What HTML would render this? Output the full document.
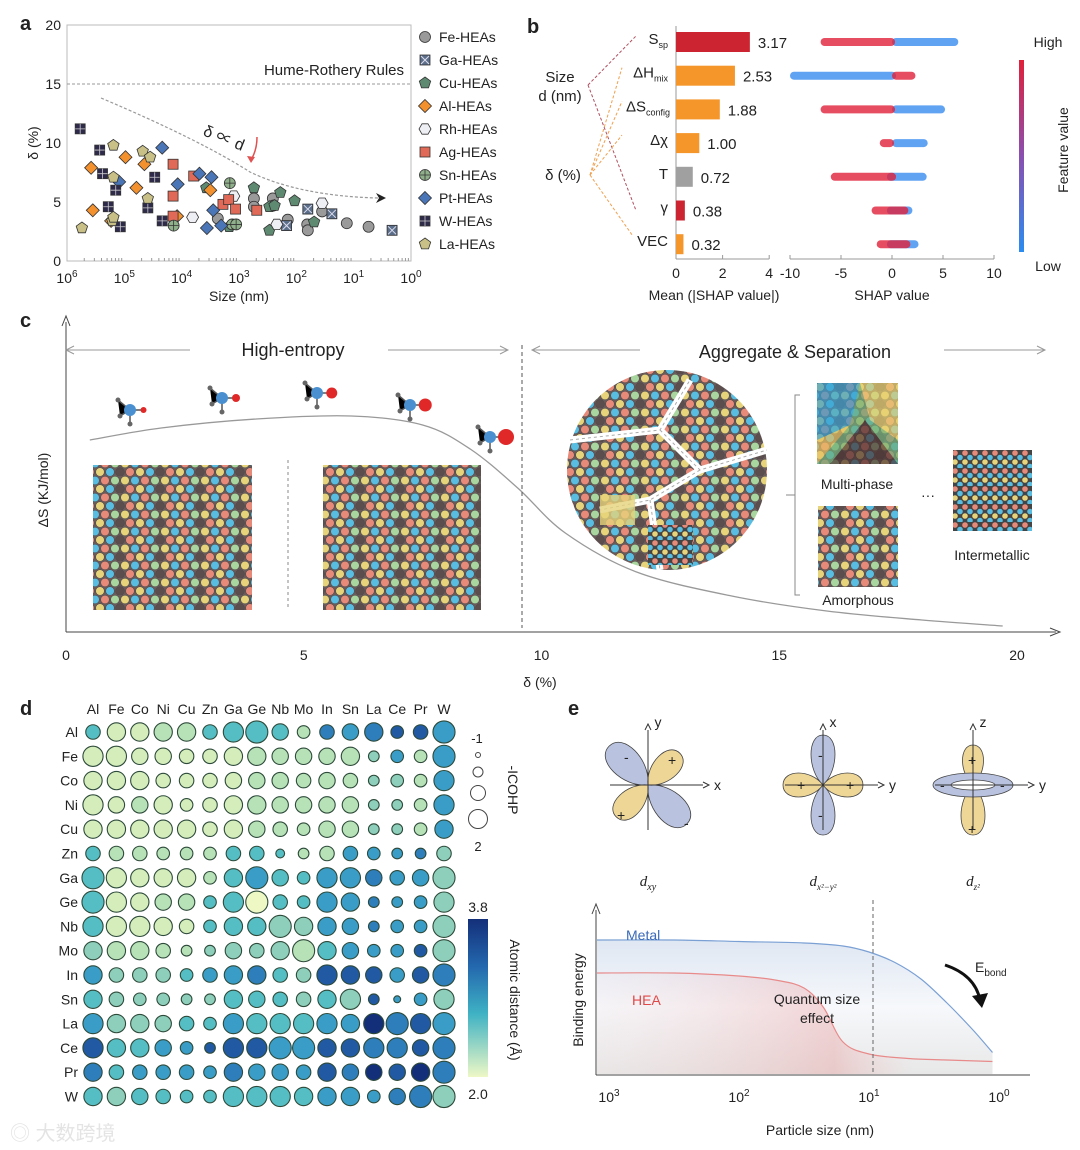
<!DOCTYPE html>
<html><head><meta charset="utf-8"><style>
body{margin:0;background:#fff;}
svg{display:block;font-family:"Liberation Sans","Noto Sans CJK SC",sans-serif;}
</style></head><body>
<svg id="fig" width="1080" height="1150" viewBox="0 0 1080 1150" xmlns="http://www.w3.org/2000/svg">
<defs>
<linearGradient id="fv" x1="0" y1="0" x2="0" y2="1"><stop offset="0" stop-color="#e0203a"/><stop offset="0.5" stop-color="#8a4fb0"/><stop offset="1" stop-color="#2b8cf0"/></linearGradient>
<linearGradient id="ad" x1="0" y1="0" x2="0" y2="1"><stop offset="0" stop-color="#142f7a"/><stop offset="0.3" stop-color="#2368ae"/><stop offset="0.6" stop-color="#3fb2c4"/><stop offset="1" stop-color="#eef8c6"/></linearGradient>
<linearGradient id="metalfill" x1="0" y1="0" x2="0" y2="1"><stop offset="0" stop-color="#dfe7f3"/><stop offset="0.5" stop-color="#f6f8fb"/><stop offset="1" stop-color="#e8e8e8"/></linearGradient>
<linearGradient id="heafill" x1="0" y1="0" x2="1" y2="0"><stop offset="0" stop-color="#f4d0d0" stop-opacity="0.2"/><stop offset="0.6" stop-color="#e88080" stop-opacity="0.6"/><stop offset="0.8" stop-color="#f0a0a0" stop-opacity="0"/></linearGradient>
<pattern id="mix" width="40" height="17" patternUnits="userSpaceOnUse">
<rect width="40" height="17" fill="#6a5a5a"/>
<circle cx="5" cy="4.5" r="4.3" fill="#e6d37a" stroke="#444" stroke-width="0.5"/>
<circle cx="15" cy="4.5" r="4.3" fill="#58bde0" stroke="#444" stroke-width="0.5"/>
<circle cx="25" cy="4.5" r="4.3" fill="#e88a7a" stroke="#444" stroke-width="0.5"/>
<circle cx="35" cy="4.5" r="4.3" fill="#a9d69e" stroke="#444" stroke-width="0.5"/>
<circle cx="0" cy="13" r="4.3" fill="#5d4e4e" stroke="#444" stroke-width="0.5"/>
<circle cx="10" cy="13" r="4.3" fill="#e88a7a" stroke="#444" stroke-width="0.5"/>
<circle cx="20" cy="13" r="4.3" fill="#e6d37a" stroke="#444" stroke-width="0.5"/>
<circle cx="30" cy="13" r="4.3" fill="#58bde0" stroke="#444" stroke-width="0.5"/>
<circle cx="40" cy="13" r="4.3" fill="#5d4e4e" stroke="#444" stroke-width="0.5"/>
</pattern>
<pattern id="stripe" width="10" height="18" patternUnits="userSpaceOnUse">
<rect width="10" height="18" fill="#444"/>
<circle cx="5" cy="3" r="2.8" fill="#e88a7a"/><circle cx="0" cy="7.5" r="2.8" fill="#58bde0"/><circle cx="10" cy="7.5" r="2.8" fill="#58bde0"/><circle cx="5" cy="12" r="2.8" fill="#e6d37a"/><circle cx="0" cy="16.5" r="2.8" fill="#58bde0"/><circle cx="10" cy="16.5" r="2.8" fill="#58bde0"/>
</pattern>
</defs>
<g id="A"></g>
<g id="B"></g>
<g id="C"></g>
<g id="D"></g>
<g id="E"></g>
<text x="10" y="1140" font-size="20" fill="#e4e4e4">◎ 大数跨境</text>
</svg>
<script>
// ---------- Panel a data: [log10(size nm), delta %] ----------
const seriesNames=["Fe-HEAs","Ga-HEAs","Cu-HEAs","Al-HEAs","Rh-HEAs","Ag-HEAs","Sn-HEAs","Pt-HEAs","W-HEAs","La-HEAs"];
const feData=[[3.37,3.6],[2.74,5.3],[2.74,4.6],[2.41,5.3],[2.40,4.7],[2.15,3.5],[1.81,3.1],[1.80,2.6],[1.55,4.2],[1.12,3.2],[0.74,2.9]];
const gaData=[[2.17,3.0],[1.80,4.4],[1.38,4.0],[0.33,2.6]];
const cuData=[[3.57,6.2],[3.17,2.9],[2.74,6.2],[2.47,2.6],[2.47,4.6],[2.38,4.7],[2.28,5.8],[2.03,5.1],[1.69,3.3]];
const alData=[[5.58,7.9],[5.55,4.3],[5.23,3.4],[4.98,8.8],[4.79,6.2],[4.65,8.2],[4.08,3.8],[3.50,6.0]];
const rhData=[[3.81,3.7],[3.09,5.5],[2.34,3.1],[1.55,4.9]];
const agData=[[4.15,8.2],[4.15,5.5],[4.15,3.8],[3.79,7.2],[3.28,4.8],[3.18,5.2],[3.06,4.4],[2.69,4.3]];
const snData=[[4.14,3.0],[3.16,6.6],[3.12,3.1],[3.05,3.1]];
const ptData=[[5.09,6.7],[4.34,9.6],[4.07,6.5],[3.69,7.4],[3.56,2.8],[3.48,7.1],[3.45,4.3],[3.31,3.0]];
const wData=[[5.77,11.2],[5.43,9.4],[5.38,7.4],[5.15,6.0],[5.28,4.6],[5.07,2.9],[4.59,4.5],[4.47,7.1],[4.34,3.4]];
const laData=[[5.74,2.8],[5.19,9.8],[5.19,7.1],[5.21,3.4],[5.19,3.7],[4.68,9.3],[4.55,8.8],[4.59,5.3]];
const aYTicks=[0,5,10,15,20];
const aXTicks=[6,5,4,3,2,1,0];
// ---------- Panel b data ----------
const bFeatures=["Ssp","ΔHmix","ΔSconfig","Δχ","T","γ","VEC"];
const bValues=[3.17,2.53,1.88,1.00,0.72,0.38,0.32];
const bTicks=[0,2,4];
const shapTicks=[-10,-5,0,5,10];
const shapRedLo=[-7,0,-7,-1.2,-6,-2,-1.5];
const shapRedHi=[0.3,2.3,0.3,0.2,0.4,1.6,1.8];
const shapBlueLo=[0,-10,0,0,-0.5,-0.5,-0.5];
const shapBlueHi=[6.5,0.4,5.2,3.5,3.4,2,2.6];
// ---------- Panel c data ----------
const cXTicks=[0,5,10,15,20];
const entropyX=[0.5,2,4,6,7.5,8.5,9.5,10.5,12,14,16,18,19.7];
const entropyY=[0.64,0.68,0.71,0.72,0.69,0.61,0.48,0.33,0.2,0.12,0.07,0.04,0.02];
// ---------- Panel d data ----------
const elements=["Al","Fe","Co","Ni","Cu","Zn","Ga","Ge","Nb","Mo","In","Sn","La","Ce","Pr","W"];
const distLevels=["5223355553767886","2222222333334636","2222222333334436","2232222333334436","2222222333334436","5333335553366674","5222235655667664","5223355155667664","5222255544667664","4333344443566684","6444566754888687","5444445554548664","6444556555669786","8556688866887787","7566667666879897","5455555555666774"];
const icohpLevels=["5777758964567459","8866557766673449","7775556665653448","8667457766663348","7777757654663347","5554445523554335","9877747964886569","9876648954873348","8887547797763449","7775336579764449","7555457755876569","7544337655783148","8776548888878989","8776438899778869","7555547665766679","7765448887774699"];
const palette=["#edf8c4","#d4edbb","#b7e1b6","#8ecfbb","#55bdc4","#3a9dc8","#2e7ebb","#2259a3","#142f7a"];
// ---------- Panel e data ----------
const eXTicks=[3,2,1,0];
const metalX=[3.1,2.5,2,1.5,1.2,1.0,0.8,0.6,0.4,0.2,0.05];
const metalY=[0.9,0.9,0.89,0.88,0.86,0.82,0.75,0.64,0.48,0.3,0.15];
const heaX=[3.1,2.5,2,1.7,1.5,1.35,1.2,1.0,0.7,0.4,0.05];
const heaY=[0.68,0.68,0.66,0.63,0.58,0.45,0.22,0.14,0.11,0.1,0.09];

const NS="http://www.w3.org/2000/svg";
function mk(parent,tag,attrs,txt){const e=document.createElementNS(NS,tag);for(const k in attrs)e.setAttribute(k,attrs[k]);if(txt!==undefined)e.textContent=txt;parent.appendChild(e);return e;}
function txt(p,x,y,s,size,anchor,extra){const a=Object.assign({x:x,y:y,"font-size":size||14,"text-anchor":anchor||"start",fill:"#222"},extra||{});return mk(p,"text",a,s);}
function smooth(pts){let d="M"+pts[0][0].toFixed(1)+","+pts[0][1].toFixed(1);for(let i=0;i<pts.length-1;i++){const p0=pts[Math.max(0,i-1)],p1=pts[i],p2=pts[i+1],p3=pts[Math.min(pts.length-1,i+2)];
 const c1=[p1[0]+(p2[0]-p0[0])/6,p1[1]+(p2[1]-p0[1])/6],c2=[p2[0]-(p3[0]-p1[0])/6,p2[1]-(p3[1]-p1[1])/6];
 d+=` C${c1[0].toFixed(1)},${c1[1].toFixed(1)} ${c2[0].toFixed(1)},${c2[1].toFixed(1)} ${p2[0].toFixed(1)},${p2[1].toFixed(1)}`;}return d;}

// ================= Panel A =================
const A=document.getElementById("A");
const ax0=67,ax1=411,ay0=261,ay1=25;
const axX=v=>ax0+(6-v)/6*(ax1-ax0);
const axY=v=>ay0-v/20*(ay0-ay1);
let t=txt(A,20,30,"a",20,"start",{"font-weight":"bold"});

let fr=mk(A,"rect",{x:ax0,y:ay1,width:ax1-ax0,height:ay0-ay1,fill:"none",stroke:"#bbb"});

aYTicks.forEach(v=>{const l=txt(A,61,axY(v)+5,String(v),14,"end");});
aXTicks.forEach(v=>{const l=mk(A,"text",{x:axX(v),y:283,"font-size":14,"text-anchor":"middle",fill:"#222"});l.innerHTML="10<tspan dy='-6' font-size='10'>"+v+"</tspan>";
 for(let k=2;k<10&&v>0;k++){mk(A,"line",{x1:axX(v-Math.log10(k)),x2:axX(v-Math.log10(k)),y1:ay0,y2:ay0-3,stroke:"#999"});}});
t=txt(A,239,301,"Size (nm)",14,"middle");
t=txt(A,38,143,"δ (%)",14,"middle",{transform:"rotate(-90 38 143)"});
let hl=mk(A,"line",{x1:ax0,x2:ax1,y1:axY(15),y2:axY(15),stroke:"#999","stroke-dasharray":"3,2"});
t=txt(A,404,75,"Hume-Rothery Rules",15,"end");
let tr=mk(A,"path",{d:"M101,98 Q200,140 250,172 Q300,196 378,198",fill:"none",stroke:"#999","stroke-dasharray":"3,2","stroke-width":1.2});
mk(A,"path",{d:"M376,193 L386,198 L376,203 L379,198Z",fill:"#222"});
t=txt(A,222,143,"δ ∝ d",16,"middle",{transform:"rotate(22 222 143)"});
mk(A,"path",{d:"M257,137 Q257,150 251,160",fill:"none",stroke:"#e05050","stroke-width":1.5});
mk(A,"path",{d:"M247,156 L251,163 L255,157Z",fill:"#e05050"});
const shapes=[["circle","#9a9a9a"],["xsq","#5b6e8a"],["pent","#5f8a72"],["diam","#f2912e"],["hex","#eeeef5"],["sq","#e06a57"],["plus","#8fb08a"],["diam","#4a76b8"],["wsq","#2e2a4a"],["pent","#c8c086"]];
function marker(p,shape,col,x,y){
 const st={fill:col,stroke:"#333","stroke-width":0.8};let e;const r=5.5;
 if(shape==="circle"||shape==="plus"){e=mk(p,"circle",Object.assign({cx:x,cy:y,r:r},st));if(shape==="plus"){mk(p,"path",{d:`M${x-r},${y}H${x+r}M${x},${y-r}V${y+r}`,stroke:"#333","stroke-width":0.8});}}
 else if(shape==="sq"||shape==="xsq"||shape==="wsq"){e=mk(p,"rect",Object.assign({x:x-5,y:y-5,width:10,height:10},st));
  if(shape==="xsq")mk(p,"path",{d:`M${x-4},${y-4}L${x+4},${y+4}M${x+4},${y-4}L${x-4},${y+4}`,stroke:"#dde","stroke-width":1});
  if(shape==="wsq")mk(p,"path",{d:`M${x-5},${y}H${x+5}M${x},${y-5}V${y+5}`,stroke:"#ccc","stroke-width":0.8});}
 else{let n=shape==="diam"?4:shape==="pent"?5:6,rr=shape==="diam"?6.5:6,pts=[];for(let i=0;i<n;i++){const a=-Math.PI/2+i*2*Math.PI/n+(shape==="hex"?Math.PI/6:0);pts.push((x+rr*Math.cos(a)).toFixed(1)+","+(y+rr*Math.sin(a)).toFixed(1));}e=mk(p,"polygon",Object.assign({points:pts.join(" ")},st));}
 return e;}
const allA=[feData,gaData,cuData,alData,rhData,agData,snData,ptData,wData,laData];
allA.forEach((arr,si)=>{const g=mk(A,"g",{});
 arr.forEach(d=>{const m=marker(g,shapes[si][0],shapes[si][1],axX(d[0]),axY(d[1]));});
 const ly=37+si*23;const lg=mk(A,"g",{});
 marker(lg,shapes[si][0],shapes[si][1],425,ly);txt(lg,439,ly+5,seriesNames[si],14);});

// ================= Panel B =================
const B=document.getElementById("B");
const bx0=676,bsc=23.3;const rowY=i=>42+i*33.7;
t=txt(B,527,33,"b",20,"start",{"font-weight":"bold"});
mk(B,"line",{x1:bx0,x2:bx0,y1:26,y2:259,stroke:"#999"});mk(B,"line",{x1:bx0,x2:bx0+4*bsc,y1:259,y2:259,stroke:"#999"});
bTicks.forEach(v=>{mk(B,"line",{x1:bx0+v*bsc,x2:bx0+v*bsc,y1:259,y2:255,stroke:"#999"});const l=txt(B,bx0+v*bsc,278,String(v),14,"middle");});
t=txt(B,714,300,"Mean (|SHAP value|)",14,"middle");
const barCol=["#cc2430","#f5962b","#f5962b","#f5962b","#a0a0a0","#cc2430","#f5962b"];
const labHTML=["S<tspan dy='4' font-size='9'>sp</tspan>","ΔH<tspan dy='4' font-size='9'>mix</tspan>","ΔS<tspan dy='4' font-size='9'>config</tspan>","Δχ","T","γ","VEC"];
bValues.forEach((v,i)=>{const y=rowY(i);const b=mk(B,"rect",{x:bx0,y:y-10,width:v*bsc,height:20,fill:barCol[i]});
 const vl=txt(B,bx0+v*bsc+8,y+6,v.toFixed(2),15);
 const fl=mk(B,"text",{x:i===2?670:668,y:y+2,"font-size":15,"text-anchor":"end",fill:"#222"});fl.innerHTML=labHTML[i];});
t=txt(B,560,82,"Size",15,"middle");
txt(B,560,101,"d (nm)",15,"middle");
t=txt(B,563,180,"δ (%)",15,"middle");
[0,5].forEach(i=>mk(B,"line",{x1:588,y1:85,x2:636,y2:rowY(i)+(i===0?-6:0),stroke:"#b05060","stroke-dasharray":"3,2"}));
[1,2,3,6].forEach(i=>mk(B,"line",{x1:590,y1:175,x2:i===6?633:622,y2:rowY(i)-8,stroke:"#f0a050","stroke-dasharray":"3,2"}));
const sx=v=>892+v*10.2;
mk(B,"line",{x1:790,x2:994,y1:259,y2:259,stroke:"#999"});
shapTicks.forEach(v=>{mk(B,"line",{x1:sx(v),x2:sx(v),y1:259,y2:255,stroke:"#999"});const l=txt(B,sx(v),278,String(v),14,"middle");});
t=txt(B,892,300,"SHAP value",14,"middle");
bFeatures.forEach((f,i)=>{const y=rowY(i);
 const bl=mk(B,"rect",{x:sx(shapBlueLo[i]),y:y-4,width:(shapBlueHi[i]-shapBlueLo[i])*10.2,height:8,rx:4,fill:"#3a8cf0",opacity:0.8});
 const rd=mk(B,"rect",{x:sx(shapRedLo[i]),y:y-4,width:(shapRedHi[i]-shapRedLo[i])*10.2,height:8,rx:4,fill:"#e0203a",opacity:0.8});});
let cb=mk(B,"rect",{x:1019,y:60,width:5,height:192,fill:"url(#fv)"});
t=txt(B,1048,47,"High",14,"middle");
t=txt(B,1048,271,"Low",14,"middle");
t=txt(B,1068,150,"Feature value",14,"middle",{transform:"rotate(-90 1068 150)"});

// ================= Panel C =================
const C=document.getElementById("C");
const cx=v=>66+v*47.55, cy=v=>632-v*300;
t=txt(C,20,327,"c",20,"start",{"font-weight":"bold"});
mk(C,"line",{x1:66,x2:66,y1:632,y2:322,stroke:"#444"});mk(C,"path",{d:"M62,326 L66,316 L70,326",fill:"none",stroke:"#444"});
mk(C,"line",{x1:66,x2:1056,y1:632,y2:632,stroke:"#444"});mk(C,"path",{d:"M1050,628 L1060,632 L1050,636",fill:"none",stroke:"#444"});
cXTicks.forEach(v=>{const l=txt(C,cx(v),660,String(v),14,"middle");});
t=txt(C,540,687,"δ (%)",14,"middle");
t=txt(C,48,490,"ΔS (KJ/mol)",14,"middle",{transform:"rotate(-90 48 490)"});
let ec=mk(C,"path",{d:smooth(entropyX.map((x,i)=>[cx(x),cy(entropyY[i])])),fill:"none",stroke:"#999","stroke-width":1.3});
mk(C,"line",{x1:522,x2:522,y1:345,y2:628,stroke:"#555","stroke-dasharray":"4,3"});
[[66,190],[388,508],[532,640],[944,1045]].forEach(s=>{mk(C,"line",{x1:s[0],x2:s[1],y1:350,y2:350,stroke:"#999"});});
mk(C,"path",{d:"M74,346 L66,350 L74,354 M500,346 L508,350 L500,354 M540,346 L532,350 L540,354 M1037,346 L1045,350 L1037,354",fill:"none",stroke:"#999"});
t=txt(C,293,356,"High-entropy",18,"middle");
t=txt(C,795,358,"Aggregate & Separation",18,"middle");
let l1=mk(C,"rect",{x:93,y:465,width:159,height:145,fill:"url(#mix)"});
let l2=mk(C,"rect",{x:323,y:465,width:158,height:145,fill:"url(#mix)"});
mk(C,"line",{x1:288,x2:288,y1:460,y2:610,stroke:"#888","stroke-dasharray":"3,3"});
let cl=mk(C,"circle",{cx:667,cy:470,r:100,fill:"url(#mix)"});
mk(C,"path",{d:"M570,440 L660,430 L690,380 M660,430 L700,470 L767,450 M700,470 L650,500 L600,510 M650,500 L660,570",fill:"none",stroke:"#fff","stroke-width":7});
mk(C,"path",{d:"M570,440 L660,430 L690,380 M660,430 L700,470 L767,450 M700,470 L650,500 L600,510 M650,500 L660,570",fill:"none",stroke:"#aaa","stroke-width":1,"stroke-dasharray":"3,3"});
mk(C,"rect",{x:600,y:495,width:35,height:30,fill:"#e6d37a",opacity:0.8});
mk(C,"rect",{x:648,y:525,width:45,height:40,fill:"url(#stripe)"});
mk(C,"path",{d:"M800,395 H795 V595 H800 M795,495 H786",fill:"none",stroke:"#888"});
let mp=mk(C,"g",{});
mk(mp,"rect",{x:817,y:383,width:81,height:81,fill:"#6fae78"});
mk(mp,"polygon",{points:"817,383 860,383 850,425 817,440",fill:"#3aa0d0"});
mk(mp,"polygon",{points:"860,383 898,383 898,440 870,420",fill:"#e8d070"});
mk(mp,"polygon",{points:"817,440 850,425 817,464",fill:"#e6c060"});
mk(mp,"polygon",{points:"830,464 865,420 898,464",fill:"#4a3232"});
mk(mp,"rect",{x:817,y:383,width:81,height:81,fill:"url(#mix)",opacity:0.3});
t=txt(C,857,489,"Multi-phase",14,"middle");
let am=mk(C,"rect",{x:818,y:506,width:80,height:81,fill:"url(#mix)"});
t=txt(C,858,605,"Amorphous",14,"middle");
txt(C,928,500,"···",14,"middle");
let im=mk(C,"rect",{x:953,y:450,width:79,height:81,fill:"url(#stripe)"});
t=txt(C,992,560,"Intermetallic",14,"middle");
[[130,410,3],[222,398,4],[317,393,5.5],[410,405,6.5],[490,437,8]].forEach((m,i)=>{const g=mk(C,"g",{});
 mk(g,"path",{d:`M${m[0]-12},${m[1]-10}L${m[0]},${m[1]}L${m[0]-10},${m[1]+6}M${m[0]},${m[1]}L${m[0]},${m[1]+14}M${m[0]},${m[1]}L${m[0]+12},${m[1]}`,stroke:"#555","stroke-width":1.5});
 [[-12,-10],[-10,6],[0,14]].forEach(o=>mk(g,"circle",{cx:m[0]+o[0],cy:m[1]+o[1],r:2.5,fill:"#666"}));
 mk(g,"circle",{cx:m[0],cy:m[1],r:6,fill:"#4a90d0"});mk(g,"circle",{cx:m[0]+12+m[2]/2,cy:m[1],r:m[2],fill:"#e02828"});});

// ================= Panel D =================
const D=document.getElementById("D");
const dX=i=>93+i*23.4, dY=i=>732+i*24.3;
t=txt(D,20,715,"d",20,"start",{"font-weight":"bold"});
elements.forEach((e,i)=>{let l=txt(D,dX(i),714,e,14,"middle");
 l=txt(D,78,dY(i)+5,e,14,"end");});
distLevels.forEach((row,r)=>{for(let c=0;c<16;c++){const lv=+row[c],sz=+icohpLevels[r][c];
 const ci=mk(D,"circle",{cx:dX(c),cy:dY(r),r:2.5+sz*0.95,fill:palette[lv-1],stroke:"#2d4a3a","stroke-width":1.1});}});
t=txt(D,477,743,"-1",13,"middle");
[[755,2.5],[772,5],[793,7.5],[819,9.5]].forEach(s=>{const c=mk(D,"circle",{cx:478,cy:s[0],r:s[1],fill:"none",stroke:"#444"});});
t=txt(D,478,851,"2",13,"middle");
t=txt(D,508,790,"-ICOHP",14,"middle",{transform:"rotate(90 508 790)"});
cb=mk(D,"rect",{x:468,y:919,width:20,height:158,fill:"url(#ad)"});
t=txt(D,478,912,"3.8",14,"middle");
t=txt(D,478,1099,"2.0",14,"middle");
t=txt(D,510,1000,"Atomic distance (Å)",14,"middle",{transform:"rotate(90 510 1000)"});

// ================= Panel E =================
const E=document.getElementById("E");
t=txt(E,568,715,"e",20,"start",{"font-weight":"bold"});
const BL="#b9c3e0",YE="#eed697",SK="#444";
function lobe(g,x,y,ang,col,len,w){return mk(g,"path",{d:`M0,0 C${len*0.3},${-w} ${len},${-w} ${len},0 C${len},${w} ${len*0.3},${w} 0,0Z`,fill:col,stroke:SK,"stroke-width":0.8,transform:`translate(${x},${y}) rotate(${ang})`});}
function axes(g,x,y,lx,ly){mk(g,"path",{d:`M${x-38},${y}H${x+55}M${x},${y+45}V${y-55}`,stroke:"#333","stroke-width":1});
 mk(g,"path",{d:`M${x+55},${y-3}L${x+61},${y}L${x+55},${y+3}M${x-3},${y-55}L${x},${y-61}L${x+3},${y-55}`,fill:"none",stroke:"#333"});
 txt(g,x+66,y+5,lx,14);txt(g,x+10,y-58,ly,14,"middle");}
let g1=mk(E,"g",{});
lobe(g1,648,785,-135,BL,55,20);lobe(g1,648,785,45,BL,55,20);lobe(g1,648,785,-45,YE,45,17);lobe(g1,648,785,135,YE,45,17);axes(g1,648,785,"x","y");
txt(g1,624,762,"-",14);txt(g1,668,765,"+",14);txt(g1,617,820,"+",14);txt(g1,684,828,"-",14);
t=mk(E,"text",{x:648,y:886,"font-size":15,"text-anchor":"middle","font-family":"Liberation Serif, serif","font-style":"italic",fill:"#222"});t.innerHTML="d<tspan dy='4' font-size='10'>xy</tspan>";
let g2=mk(E,"g",{});
lobe(g2,823,785,-90,BL,50,16);lobe(g2,823,785,90,BL,50,16);lobe(g2,823,785,0,YE,40,16);lobe(g2,823,785,180,YE,40,16);axes(g2,823,785,"y","x");
txt(g2,818,760,"-",14);txt(g2,797,790,"+",14);txt(g2,846,790,"+",14);txt(g2,818,820,"-",14);
t=mk(E,"text",{x:823,y:886,"font-size":15,"text-anchor":"middle","font-family":"Liberation Serif, serif","font-style":"italic",fill:"#222"});t.innerHTML="d<tspan dy='4' font-size='9'>x²−y²</tspan>";
let g3=mk(E,"g",{});
lobe(g3,973,785,90,YE,50,16);lobe(g3,973,785,-90,YE,40,14);
mk(g3,"ellipse",{cx:973,cy:785,rx:40,ry:12,fill:BL,stroke:SK,"stroke-width":0.8});mk(g3,"ellipse",{cx:973,cy:785,rx:22,ry:5,fill:"#fff",stroke:SK,"stroke-width":0.8});
axes(g3,973,785,"y","z");txt(g3,940,790,"-",14);txt(g3,1000,790,"-",14);txt(g3,968,765,"+",14);txt(g3,968,834,"+",14);
t=mk(E,"text",{x:973,y:886,"font-size":15,"text-anchor":"middle","font-family":"Liberation Serif, serif","font-style":"italic",fill:"#222"});t.innerHTML="d<tspan dy='4' font-size='9'>z²</tspan>";
const ex=v=>609+(3-v)*130, ey=v=>1075-v*150;
mk(E,"line",{x1:596,x2:596,y1:1075,y2:910,stroke:"#444"});mk(E,"path",{d:"M592,914 L596,904 L600,914",fill:"none",stroke:"#444"});
mk(E,"line",{x1:596,x2:1030,y1:1075,y2:1075,stroke:"#444"});
eXTicks.forEach(v=>{const l=mk(E,"text",{x:ex(v),y:1102,"font-size":14,"text-anchor":"middle",fill:"#222"});l.innerHTML="10<tspan dy='-6' font-size='10'>"+v+"</tspan>";});
t=txt(E,820,1135,"Particle size (nm)",14,"middle");
t=txt(E,583,1000,"Binding energy",14,"middle",{transform:"rotate(-90 583 1000)"});
const mPts=metalX.map((x,i)=>[Math.max(597,ex(x)),ey(metalY[i])]);
const hPts=heaX.map((x,i)=>[Math.max(597,ex(x)),ey(heaY[i])]);
const mp2=smooth(mPts), hp=smooth(hPts);
mk(E,"path",{d:mp2+` L${mPts[mPts.length-1][0]},1074 L597,1074Z`,fill:"url(#metalfill)"});
mk(E,"path",{d:hp+` L${hPts[hPts.length-1][0]},1074 L597,1074Z`,fill:"url(#heafill)",opacity:0.5});
let mc=mk(E,"path",{d:mp2,fill:"none",stroke:"#7aa0d4","stroke-width":1.2});
let hc=mk(E,"path",{d:hp,fill:"none",stroke:"#e88a8a","stroke-width":1.2});
mk(E,"line",{x1:873,x2:873,y1:900,y2:1075,stroke:"#666","stroke-dasharray":"4,3"});
t=txt(E,626,940,"Metal",14,"start",{fill:"#3a6ab8"});
t=txt(E,632,1005,"HEA",14,"start",{fill:"#e04848"});
t=txt(E,817,1004,"Quantum size",14,"middle");
txt(E,817,1023,"effect",14,"middle");
mk(E,"path",{d:"M945,965 Q975,975 980,1000",fill:"none",stroke:"#111","stroke-width":3});mk(E,"path",{d:"M972,996 L982,1008 L988,993Z",fill:"#111"});
t=mk(E,"text",{x:975,y:972,"font-size":14,fill:"#222"});t.innerHTML="E<tspan dy='4' font-size='10'>bond</tspan>";
</script>
</body></html>
